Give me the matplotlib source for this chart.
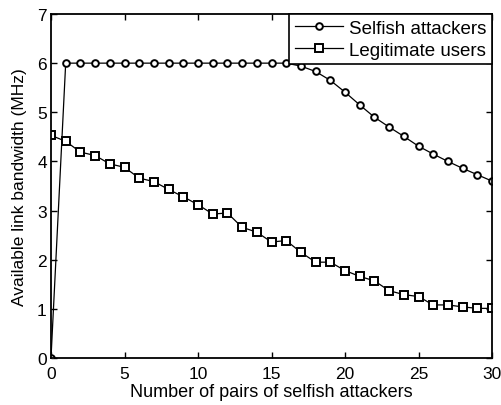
import matplotlib
matplotlib.use("Agg")
import matplotlib.pyplot as plt

pairs = list(range(0, 31))
selfish = [0.0] + [6.0] * 16 + [5.94, 5.83, 5.65, 5.41, 5.15, 4.90, 4.70, 4.51, 4.31, 4.15, 4.00, 3.86, 3.73, 3.60]
legit = [4.53, 4.41, 4.19, 4.12, 3.95, 3.88, 3.66, 3.59, 3.43, 3.28, 3.12, 2.93, 2.95, 2.66, 2.56,
         2.36, 2.39, 2.15, 1.95, 1.95, 1.78, 1.66, 1.57, 1.37, 1.29, 1.25, 1.08, 1.08, 1.04, 1.01, 1.01]
xticks = [0, 5, 10, 15, 20, 25, 30]
yticks = [0, 1, 2, 3, 4, 5, 6, 7]

plt.rcParams['font.family'] = ['Liberation Sans', 'DejaVu Sans']
fig = plt.figure(figsize=(5.01, 4.06), dpi=100)
ax = fig.add_axes([51/501, 47/406, 441/501, 344/406])

ax.plot(pairs, selfish, color='black', lw=0.9, marker='o', ms=4.8, mfc='white', mec='black', mew=1.4,
        label='Selfish attackers')
ax.plot(pairs, legit, color='black', lw=0.9, marker='s', ms=5.2, mfc='white', mec='black', mew=1.4,
        label='Legitimate users')

ax.set_xlim(0, 30)
ax.set_ylim(0, 7)
ax.set_xticks(xticks)
ax.set_yticks(yticks)
ax.tick_params(direction='in', top=True, right=True, labelsize=12.5, length=4, width=1)
ax.tick_params(axis='x', pad=6)
ax.tick_params(axis='y', pad=3)
for s in ax.spines.values():
    s.set_linewidth(1.3)
ax.set_xlabel('Number of pairs of selfish attackers', fontsize=13, labelpad=1)
ax.set_ylabel('Available link bandwidth (MHz)', fontsize=12.5, labelpad=7)

leg = ax.legend(loc='upper right', fontsize=13.5, frameon=True, fancybox=False, edgecolor='black',
                borderaxespad=0, handlelength=2.6, borderpad=0.3, labelspacing=0.25, handletextpad=0.3,
                framealpha=1)
leg.get_frame().set_linewidth(1.2)

fig.savefig('out.png', dpi=100)
